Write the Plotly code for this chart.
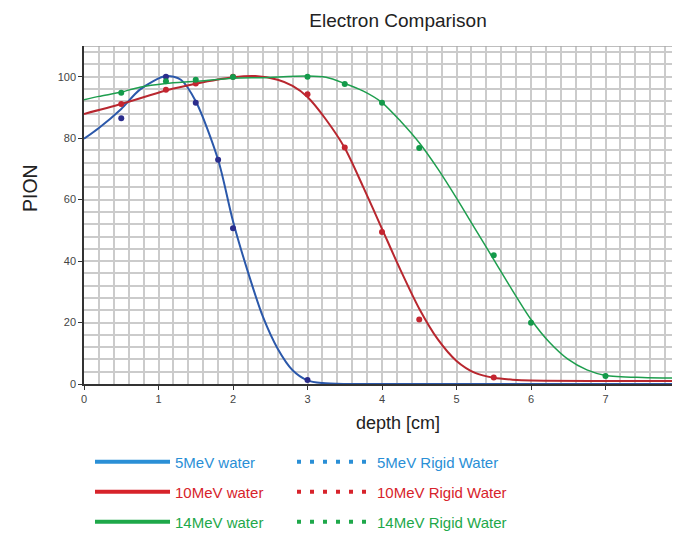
import plotly.graph_objects as go

# measured curves (water) - depth [cm] vs PION
water5_x = [0, 0.2, 0.5, 0.75, 1.1, 1.3, 1.5, 1.8, 2.0, 2.2, 2.4, 2.6, 2.8, 3.0, 3.2, 3.5, 4, 5, 6, 7, 8]
water5_y = [79.8, 83.3, 89.5, 95.8, 100.2, 99, 92, 73, 53, 36.5, 22, 11.5, 4.5, 1.2, 0.3, 0, 0, 0, 0, 0, 0]

water10_x = [0, 0.5, 1.1, 1.5, 2.0, 2.3, 2.6, 2.8, 3.0, 3.25, 3.5, 3.75, 4.0, 4.25, 4.5, 4.75, 5.0, 5.25, 5.5, 5.75,
             6, 7, 8]
water10_y = [87.9, 91.1, 95.5, 97.7, 99.8, 100.2, 99, 97, 93.4, 86, 76.8, 64, 50.5, 37, 24.5, 14.5, 7.5, 3.6, 2, 1.4,
             1.1, 1.0, 1.0]

water14_x = [0, 0.2, 0.5, 0.75, 1.1, 1.5, 2.0, 2.4, 3.0, 3.25, 3.5, 3.75, 4.0, 4.25, 4.5, 4.75, 5.0, 5.25, 5.5, 5.75,
             6.0, 6.25, 6.5, 6.75, 7.0, 7.5, 8]
water14_y = [92.5, 93.6, 95, 96.6, 97.8, 98.5, 99.5, 99.7, 100.2, 99.8, 97.8, 95.3, 91.6, 85.5, 78.5, 70, 60.5, 50.5,
             40.5, 30.5, 21, 13.5, 8, 4.6, 2.8, 2.1, 1.9]

# rigid water points
rigid5_x = [0.5, 1.1, 1.5, 1.8, 2.0, 3.0]
rigid5_y = [86.5, 100, 91.5, 73, 50.7, 1.3]

rigid10_x = [0.5, 1.1, 1.5, 2.0, 3.0, 3.5, 4.0, 4.5, 5.5]
rigid10_y = [91.1, 95.8, 97.8, 100, 94.3, 77, 49.5, 21, 2.1]

rigid14_x = [0.5, 1.1, 1.5, 2.0, 3.0, 3.5, 4.0, 4.5, 5.5, 6.0, 7.0]
rigid14_y = [94.8, 98.5, 99, 99.9, 100, 97.6, 91.5, 76.8, 41.9, 19.9, 2.6]

series = [
    ('5MeV', water5_x, water5_y, rigid5_x, rigid5_y, '#2b58aa', '#2b2d8c', '#2a8fd6', 2),
    ('10MeV', water10_x, water10_y, rigid10_x, rigid10_y, '#b8272f', '#c42530', '#d7232b', 2),
    ('14MeV', water14_x, water14_y, rigid14_x, rigid14_y, '#1e9e4e', '#139a4a', '#1ea84a', 1.5),
]

W, H = 672, 526
L, T, PW, PH = 76, 38, 596, 338

fig = go.Figure()

for name, wx, wy, rx, ry, line_col, pt_col, leg_col, lw in series:
    fig.add_trace(go.Scatter(
        x=wx, y=wy, mode='lines', line=dict(color=line_col, width=lw, shape='spline', smoothing=0.8),
        showlegend=False, hoverinfo='skip'))
    fig.add_trace(go.Scatter(
        x=rx, y=ry, mode='markers', marker=dict(color=pt_col, size=6),
        showlegend=False))

# legend: one single-item legend per cell (3 rows x 2 columns)
legend_font = dict(size=15, family='Arial, Liberation Sans, sans-serif')
legends = {}
row_y = [454, 484, 514]
for i, (name, wx, wy, rx, ry, line_col, pt_col, leg_col, lw) in enumerate(series):
    for j, (label, dash) in enumerate([('water', None), ('Rigid Water', '4px,9px')]):
        key = 'legend' if (i == 0 and j == 0) else f'legend{2 * i + j + 1}'
        fig.add_trace(go.Scatter(
            x=[None], y=[None], mode='lines', line=dict(color=leg_col, width=4, dash=dash), legend=key,
            name=f'<span style="color:{leg_col}">{name} {label}</span>'))
        legends[key] = dict(orientation='h', xref='container', yref='container',
                            x=(82 if j == 0 else 284) / W, y=1 - row_y[i] / H,
                            xanchor='left', yanchor='middle', itemwidth=75,
                            font=legend_font, bgcolor='rgba(0,0,0,0)')

grid = '#cbcbcb'

fig.update_xaxes(
    range=[0, 8], dtick=1, tick0=0,
    showgrid=True, gridcolor=grid, gridwidth=1.5,
    minor=dict(dtick=0.2, showgrid=True, gridcolor=grid, gridwidth=1.5),
    showline=True, linecolor='#333', linewidth=1.5,
    ticks='outside', ticklen=4, tickcolor='#333',
    tickfont=dict(size=11, color='#444'),
    zeroline=False, layer='below traces', automargin=False)

fig.update_yaxes(
    range=[0, 110], dtick=20, tick0=0,
    showgrid=True, gridcolor=grid, gridwidth=1.5,
    minor=dict(dtick=4, showgrid=True, gridcolor=grid, gridwidth=1.5),
    showline=True, linecolor='#333', linewidth=1.5,
    ticks='outside', ticklen=4, tickcolor='#333',
    tickfont=dict(size=11, color='#444'),
    zeroline=False, layer='below traces', automargin=False)

fig.add_shape(type='line', xref='paper', yref='y', x0=0, x1=1, y0=110, y1=110,
              line=dict(color='#a8a8a8', width=1.5))

fig.add_annotation(text='depth [cm]', xref='paper', yref='paper', x=(390 - L) / PW, y=(T + PH - 415) / PH,
                   xanchor='center', yanchor='middle', showarrow=False, font=dict(size=18, color='#222'))
fig.add_annotation(text='PION', xref='paper', yref='paper', x=(21.5 - L) / PW, y=(T + PH - 179.5) / PH,
                   xanchor='center', yanchor='middle', textangle=-90, showarrow=False,
                   font=dict(size=19.5, color='#222'))

fig.update_layout(
    width=W, height=H,
    margin=dict(l=L, r=W - L - PW, t=T, b=H - T - PH),
    paper_bgcolor='white', plot_bgcolor='white',
    font=dict(family='Arial, Liberation Sans, sans-serif'),
    title=dict(text='Electron Comparison', x=390 / W, xanchor='center', y=1 - 12 / H, yanchor='middle',
               font=dict(size=19, color='#222')),
    **legends,
)

fig.write_html("out.html")
